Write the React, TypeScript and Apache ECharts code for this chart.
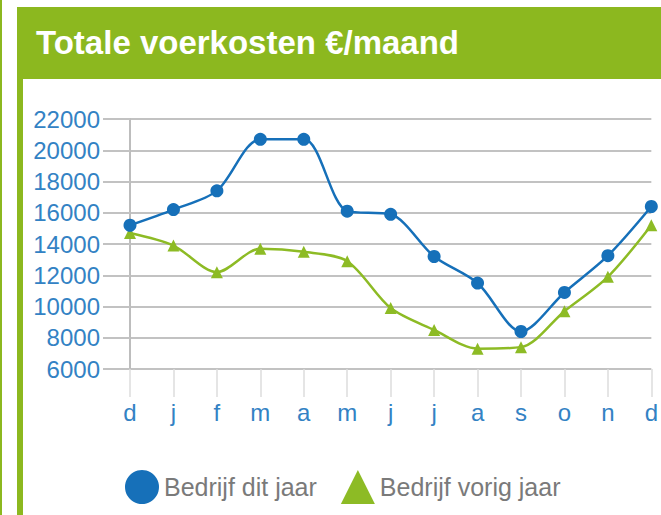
import React, { useEffect, useRef } from "react";
import * as echarts from "echarts";

const titleText = "Totale voerkosten €/maand";
const categories = ["d", "j", "f", "m", "a", "m", "j", "j", "a", "s", "o", "n", "d"];
const seriesNames = ["Bedrijf dit jaar", "Bedrijf vorig jaar"];
const ditJaar = [15200, 16200, 17400, 20700, 20700, 16100, 15900, 13200, 11500, 8400, 10900, 13250, 16400];
const vorigJaar = [14700, 13900, 12200, 13700, 13500, 12900, 9900, 8500, 7300, 7400, 9700, 11900, 15200];
const yMin = 6000;
const yMax = 22000;
const yInterval = 2000;

const GREEN = "#8cb81f";
const BLUE = "#1670b9";
const LINE_GREEN = "#8dbb25";
const LABEL_BLUE = "#3382c4";
const FONT = "Liberation Sans, Arial, sans-serif";

export default function App() {
  const ref = useRef<HTMLDivElement>(null);

  useEffect(() => {
    if (!ref.current) return;
    const chart = echarts.init(ref.current, null, { renderer: "svg" });
    chart.setOption({
      animation: false,
      backgroundColor: "#ffffff",
      title: {
        text: titleText,
        left: 36,
        top: 22,
        padding: 0,
        textStyle: {
          color: "#ffffff",
          fontSize: 33,
          fontWeight: "bold",
          fontFamily: FONT,
          lineHeight: 40,
        },
      },
      graphic: [
        { type: "rect", shape: { x: 0, y: 0, width: 2, height: 515 }, style: { fill: GREEN }, z: 0 },
        { type: "rect", shape: { x: 17, y: 7, width: 644, height: 72 }, style: { fill: GREEN }, z: 0 },
        { type: "rect", shape: { x: 17, y: 7, width: 6, height: 508 }, style: { fill: GREEN }, z: 0 },
      ],
      legend: {
        left: 125,
        top: 470,
        padding: 0,
        itemGap: 24,
        itemWidth: 34,
        itemHeight: 34,
        itemStyle: { borderWidth: 0 },
        textStyle: { color: "#7a7a7a", fontSize: 25, fontFamily: FONT },
        data: [
          { name: seriesNames[0], icon: "circle" },
          { name: seriesNames[1], icon: "triangle" },
        ],
      },
      grid: { left: 130, right: 7, top: 119, bottom: 146, containLabel: false },
      xAxis: {
        type: "category",
        data: categories,
        boundaryGap: false,
        axisLine: { show: false },
        axisTick: { show: true, length: 28, lineStyle: { color: "#dddddd", width: 1.5 } },
        axisLabel: { color: LABEL_BLUE, fontSize: 24, fontFamily: FONT, margin: 31, interval: 0 },
        splitLine: { show: false },
      },
      yAxis: {
        type: "value",
        min: yMin,
        max: yMax,
        interval: yInterval,
        axisLine: { show: true, lineStyle: { color: "#bdbdbd", width: 2 } },
        axisTick: { show: true, length: 27, lineStyle: { color: "#c2c2c2", width: 2 } },
        axisLabel: {
          color: LABEL_BLUE,
          fontSize: 24,
          fontFamily: FONT,
          margin: 30,
          formatter: (v: number) => String(v),
        },
        splitLine: { show: true, lineStyle: { color: "#c2c2c2", width: 2 } },
      },
      series: [
        {
          name: seriesNames[1],
          type: "line",
          data: vorigJaar,
          smooth: 0.3,
          symbol: "triangle",
          symbolSize: 12,
          lineStyle: { color: LINE_GREEN, width: 2.5 },
          itemStyle: { color: LINE_GREEN },
          z: 2,
        },
        {
          name: seriesNames[0],
          type: "line",
          data: ditJaar,
          smooth: 0.3,
          symbol: "circle",
          symbolSize: 13,
          lineStyle: { color: BLUE, width: 2.5 },
          itemStyle: { color: BLUE },
          z: 3,
        },
      ],
    });
    return () => chart.dispose();
  }, []);

  return (
    <div
      ref={ref}
      style={{ position: "fixed", left: 0, top: 0, width: 661, height: 515 }}
    />
  );
}
